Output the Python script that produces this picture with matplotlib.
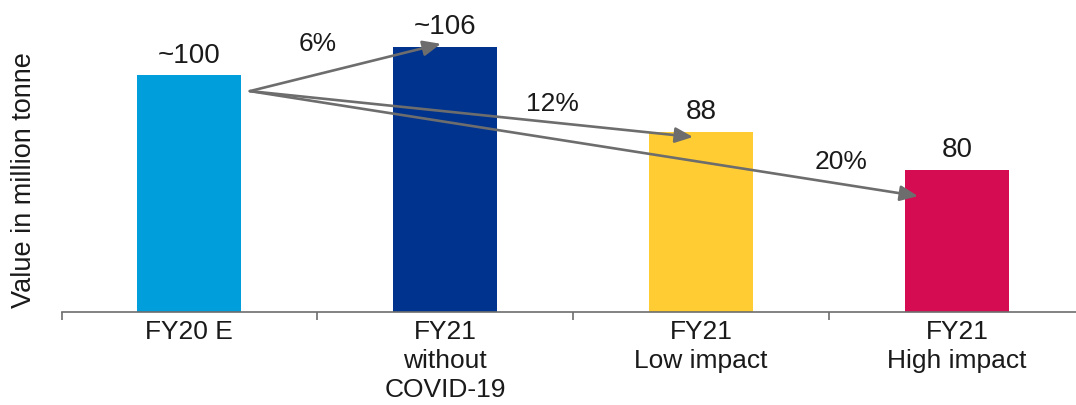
import matplotlib
matplotlib.use('Agg')
import matplotlib.pyplot as plt

# Chart data
categories = ['FY20 E', 'FY21\nwithout\nCOVID-19', 'FY21\nLow impact', 'FY21\nHigh impact']
values = [100, 106, 88, 80]
value_labels = ['~100', '~106', '88', '80']
colors = ['#009FDC', '#00338D', '#FFCD33', '#D50C52']

# Change arrows from FY20 E to each FY21 scenario
change_targets = [1, 2, 3]
change_labels = ['6%', '12%', '20%']

plt.rcParams['font.family'] = ['Liberation Sans', 'DejaVu Sans']
text_color = '#1a1a1a'
grey = '#6d6d6d'

fig = plt.figure(figsize=(10.76, 4.05), dpi=100)
ax = fig.add_axes([62 / 1076, 93 / 405, 1 - 62 / 1076, 302 / 405])

x = list(range(len(categories)))
ax.bar(x, values, width=0.406, color=colors, zorder=2)

# Value labels above the bars
for i, v in enumerate(values):
    ax.annotate(value_labels[i], (i, v), xytext=(0, 5), textcoords='offset points',
                ha='center', va='bottom', fontsize=20, color=text_color)

# Arrows (start near the right edge of first bar)
start = (0.238, values[0] - 3.3)
end_offsets = [(-0.016, 0.7), (-0.031, -1.0), (-0.152, -5.5)]
label_pos = [(0.504, 106.7), (1.418, 94.0), (2.547, 81.7)]
for t, lab, (dx, dy), (lx, ly) in zip(change_targets, change_labels, end_offsets, label_pos):
    ax.annotate('', xy=(t + dx, values[t] + dy), xytext=start,
                arrowprops=dict(arrowstyle='-|>,head_length=0.6,head_width=0.26',
                                mutation_scale=18, color=grey, lw=1.9,
                                shrinkA=0, shrinkB=0), zorder=3)
    ax.text(lx, ly, lab, ha='center', va='center', fontsize=19, color=text_color)

ax.set_xlim(-0.496, 3.465)
ax.set_ylim(50, 50 + 302 / 4.73)

ax.set_xticks(x)
ax.set_xticklabels(categories, fontsize=19, color=text_color, linespacing=1.25)
ax.tick_params(axis='x', length=0, pad=6)
ax.set_xticks([-0.496, 0.5, 1.5, 2.5], minor=True)
ax.tick_params(axis='x', which='minor', length=6, color=grey, width=1.2)
ax.set_yticks([])

for s in ['top', 'right', 'left']:
    ax.spines[s].set_visible(False)
ax.spines['bottom'].set_color(grey)
ax.spines['bottom'].set_linewidth(1.2)

ax.set_ylabel('Value in million tonne', fontsize=19.5, color=text_color)
ax.yaxis.set_label_coords(-0.0247, 0.437)

fig.savefig('out.png', dpi=100)
